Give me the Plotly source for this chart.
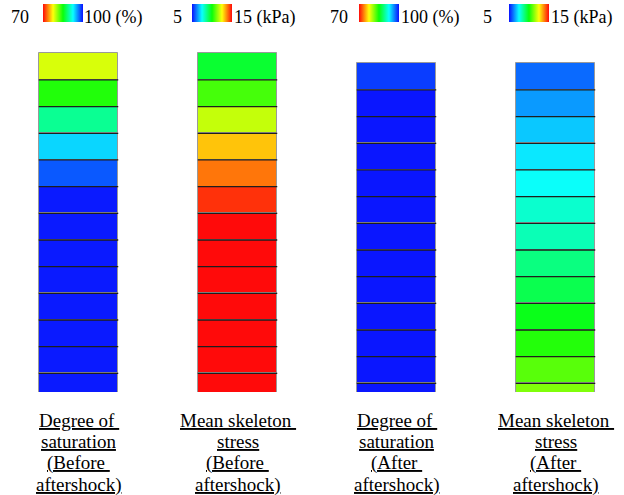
import plotly.graph_objects as go

# ---------------- data ----------------
columns = ["Degree of saturation (Before aftershock)",
           "Mean skeleton stress (Before aftershock)",
           "Degree of saturation (After aftershock)",
           "Mean skeleton stress (After aftershock)"]

layer_thickness = [1.0] * 13            # 13 soil layers, top to bottom
top_before = 13.0                        # top elevation before aftershock
top_after = 12.625                       # top elevation after aftershock (settled)

sat_before = [78.7, 84.3, 89.2, 93.8, 97.7, 99.7, 99.7, 99.7, 99.7, 99.7, 99.7, 99.7, 99.7]
stress_before = [9.6, 10.6, 11.9, 13.1, 13.9, 14.6, 15.0, 15.0, 15.0, 15.0, 15.0, 15.0, 15.0]
sat_after = [98.6, 99.8, 99.8, 99.8, 99.8, 99.8, 99.8, 99.8, 99.8, 99.8, 99.8, 99.8, 99.8]
stress_after = [5.94, 6.44, 6.92, 7.26, 7.55, 8.0, 8.25, 8.8, 9.3, 9.85, 10.25, 10.8, 11.2]

sat_range = [70, 100]
stress_range = [5, 15]
sat_labels = ["70", "100 (%)"]
stress_labels = ["5", "15 (kPa)"]

label_lines = [["Degree of ", "saturation", "(Before ", "aftershock)"],
               ["Mean skeleton ", "stress", "(Before ", "aftershock)"],
               ["Degree of ", "saturation", "(After ", "aftershock)"],
               ["Mean skeleton ", "stress", "(After ", "aftershock)"]]

# ---------------- styling ----------------
W, H = 624, 495
FONT = "Liberation Serif"
BAR_W = 0.5
rainbow = [[0.0, "#0A10FF"], [0.25, "#0AFFFF"], [0.5, "#0AFF0A"],
           [0.75, "#FFFF0A"], [1.0, "#FF0A0A"]]
rainbow_rev = [[1 - p, c] for p, c in reversed(rainbow)]


def py(p):  # pixel y -> paper
    return 1 - p / H


def px(p):  # pixel x -> paper
    return p / W


def bases(top, th):
    out, z = [], top
    for t in th:
        z -= t
        out.append(z)
    return out


specs = [
    (sat_before, top_before, rainbow_rev, sat_range, 62.5),
    (stress_before, top_before, rainbow, stress_range, 212.0),
    (sat_after, top_after, rainbow_rev, sat_range, 379.5),
    (stress_after, top_after, rainbow, stress_range, 529.0),
]

fig = go.Figure()
for i, (vals, top, cs, rng, cbx) in enumerate(specs):
    b = bases(top, layer_thickness)
    fig.add_trace(go.Bar(
        x=[i] * len(vals), y=layer_thickness, base=b,
        width=BAR_W, name=columns[i], showlegend=False, hoverinfo="skip",
        marker=dict(color=vals, colorscale=cs, cmin=rng[0], cmax=rng[1],
                    line=dict(color="#9a9a9a", width=1),
                    showscale=True,
                    colorbar=dict(orientation="h", lenmode="pixels", len=40,
                                  thickness=18, x=px(cbx), xanchor="center",
                                  y=py(4), yanchor="top", xpad=0, ypad=0,
                                  outlinewidth=0, showticklabels=False, ticks="")),
    ))
    # dark separators between layers
    sx, sy = [], []
    for z in b[:-1]:
        sx += [i - BAR_W / 2, i + BAR_W / 2, None]
        sy += [z, z, None]
    fig.add_trace(go.Scatter(x=sx, y=sy, mode="lines", showlegend=False,
                             hoverinfo="skip",
                             line=dict(color="#1e1e1e", width=1.3)))

annotations = []
# colorbar end labels
cb_text = [(sat_labels, 31, 82), (stress_labels, 184, 232),
           (sat_labels, 350, 399), (stress_labels, 494, 549)]
for labs, xl, xr in cb_text:
    annotations.append(dict(text=labs[0], x=px(xl), y=py(17), xref="paper", yref="paper",
                            xanchor="right", yanchor="middle", showarrow=False,
                            font=dict(family=FONT, size=18, color="black")))
    annotations.append(dict(text=labs[1], x=px(xr), y=py(17), xref="paper", yref="paper",
                            xanchor="left", yanchor="middle", showarrow=False,
                            font=dict(family=FONT, size=18, color="black")))

# column captions (underlined)
line_y = [420, 441.5, 463, 484.5]
for i, lines in enumerate(label_lines):
    for j, t in enumerate(lines):
        annotations.append(dict(text="<u>" + t.replace(" ", "&nbsp;") + "</u>",
                                x=i, y=py(line_y[j]), xref="x", yref="paper",
                                xanchor="center", yanchor="middle", showarrow=False,
                                font=dict(family=FONT, size=19, color="black")))

fig.update_layout(
    width=W, height=H, margin=dict(l=0, r=0, t=0, b=0),
    paper_bgcolor="white", plot_bgcolor="white",
    font=dict(family=FONT),
    barmode="overlay", bargap=0,
    xaxis=dict(range=[-78.5 / 159, (W - 78.5) / 159], visible=False, fixedrange=True),
    yaxis=dict(domain=[(H - 392) / H, 1], range=[0.3, 0.3 + 392 / 26.67],
               visible=False, fixedrange=True),
    annotations=annotations,
)

fig.write_html("out.html")
